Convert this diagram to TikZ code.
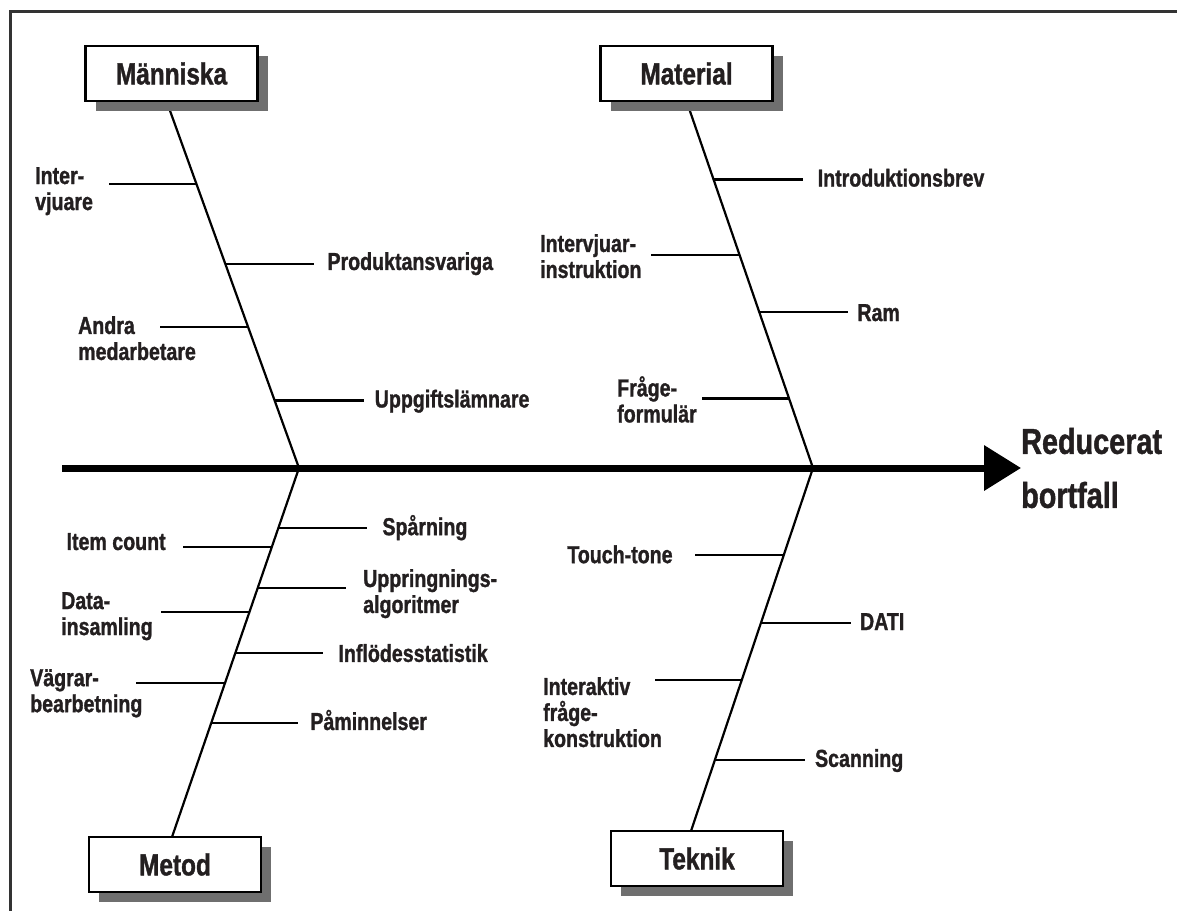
\documentclass[tikz,border=0pt]{standalone}
\usepackage{fontspec}
\setmainfont{Liberation Sans}[FakeStretch=0.8,BoldFeatures={FakeBold=1.2}]
\usetikzlibrary{arrows.meta,shadows}
\definecolor{ink}{HTML}{231F20}
\definecolor{shade}{HTML}{6F6F6F}
\definecolor{rim}{HTML}{333333}

\begin{document}
\begin{tikzpicture}[x=1pt,y=-1pt,
  cause/.style={draw=black,line width=2.5pt,fill=white,minimum width=172pt,minimum height=55pt,inner sep=0pt,text=ink,font=\bfseries\fontsize{30.5}{32}\selectfont,general shadow={fill=shade,shadow xshift=10pt,shadow yshift=-10pt}},
  bone/.style={line width=2.2pt},
  twig/.style={line width=2.3pt},
  lbl/.style={inner sep=0pt,text=ink,align=left,font=\bfseries\fontsize{24.5}{26}\selectfont}]
\useasboundingbox (0,0) rectangle (1177,911);
\draw[rim,line width=3pt] (1177,11) -- (10,11) -- (10,911);

\coordinate (jA) at (299,468);
\coordinate (jB) at (813,468);
\coordinate (tail) at (62,468);

\draw[bone] (166.5,101) -- (jA) coordinate[pos=0.227] (a1) coordinate[pos=0.444] (a2) coordinate[pos=0.616] (a3) coordinate[pos=0.816] (a4);
\draw[bone] (686.5,101) -- (jB) coordinate[pos=0.214] (b1) coordinate[pos=0.419] (b2) coordinate[pos=0.575] (b3) coordinate[pos=0.811] (b4);
\draw[bone] (jA) -- (172,837) coordinate[pos=0.163] (c1) coordinate[pos=0.214] (c2) coordinate[pos=0.325] (c3) coordinate[pos=0.390] (c4) coordinate[pos=0.501] (c5) coordinate[pos=0.583] (c6) coordinate[pos=0.691] (c7);
\draw[bone] (jB) -- (691,831) coordinate[pos=0.240] (d1) coordinate[pos=0.427] (d2) coordinate[pos=0.584] (d3) coordinate[pos=0.804] (d4);

\node[cause] (man) at (171.5,73.5) {Människa};
\node[cause] (mat) at (686.5,73.5) {Material};
\node[cause] (met) at (175,864.5) {Metod};
\node[cause] (tek) at (697,858.5) {Teknik};

\draw[twig] (a1) -- ++(-88,0) coordinate (a1e);
\node[lbl,anchor=north west] (intv) at (35,167) {Inter-\\vjuare};
\draw[twig] (a2) -- ++(89,0) node[lbl,anchor=base west,xshift=12pt,yshift=-6pt] (prod) {Produktansvariga};
\draw[twig] (a3) -- ++(-88,0) coordinate (a3e);
\node[lbl,anchor=north west] (andra) at (78,316) {Andra\\medarbetare};
\draw[twig] (a4) -- ++(89,0) node[lbl,anchor=base west,xshift=10pt,yshift=-7pt] (uppg) {Uppgiftslämnare};

\draw[twig] (b1) -- ++(89,0) node[lbl,anchor=base west,xshift=14pt,yshift=-7pt] (intro) {Introduktionsbrev};
\draw[twig] (b2) -- ++(-89,0) coordinate (b2e);
\node[lbl,anchor=north west] (instr) at (540,234) {Intervjuar-\\instruktion};
\draw[twig] (b3) -- ++(89,0) node[lbl,anchor=base west,xshift=8pt,yshift=-9pt] (ram) {Ram};
\draw[twig] (b4) -- ++(-87,0) coordinate (b4e);
\node[lbl,anchor=north west] (form) at (617,376) {Fråge-\\formulär};

\draw[twig] (c1) -- ++(89,0) node[lbl,anchor=base west,xshift=14pt,yshift=-7pt] (spar) {Spårning};
\draw[twig] (c2) -- ++(-89,0) node[lbl,anchor=base east,xshift=-16pt,yshift=-3pt] (item) {Item count};
\draw[twig] (c3) -- ++(88,0) coordinate (c3e);
\node[lbl,anchor=north west] (uppr) at (363,569) {Uppringnings-\\algoritmer};
\draw[twig] (c4) -- ++(-88,0) coordinate (c4e);
\node[lbl,anchor=north west] (data) at (61,592) {Data-\\insamling};
\draw[twig] (c5) -- ++(88,0) node[lbl,anchor=base west,xshift=14pt,yshift=-9pt] (infl) {Inflödesstatistik};
\draw[twig] (c6) -- ++(-89,0) coordinate (c6e);
\node[lbl,anchor=north west] (vagr) at (30,669) {Vägrar-\\bearbetning};
\draw[twig] (c7) -- ++(87,0) node[lbl,anchor=base west,xshift=11pt,yshift=-7pt] (pam) {Påminnelser};

\draw[twig] (d1) -- ++(-89,0) node[lbl,anchor=base east,xshift=-21pt,yshift=-8pt] (touch) {Touch-tone};
\draw[twig] (d2) -- ++(90,0) node[lbl,anchor=base west,xshift=8pt,yshift=-7pt] (dati) {DATI};
\draw[twig] (d3) -- ++(-87,0) coordinate (d3e);
\node[lbl,anchor=north west] (inter) at (543,677) {Interaktiv\\fråge-\\konstruktion};
\draw[twig] (d4) -- ++(90,0) node[lbl,anchor=base west,xshift=9pt,yshift=-7pt] (scan) {Scanning};

\node[anchor=west,inner sep=0pt,align=left,text=ink,font=\bfseries\fontsize{36}{54}\selectfont] (eff) at (1021,468) {Reducerat\\bortfall};
\draw[line width=7pt,-{Triangle[length=37pt,width=44pt]}] (tail) -- (eff.west);
\end{tikzpicture}
\end{document}
